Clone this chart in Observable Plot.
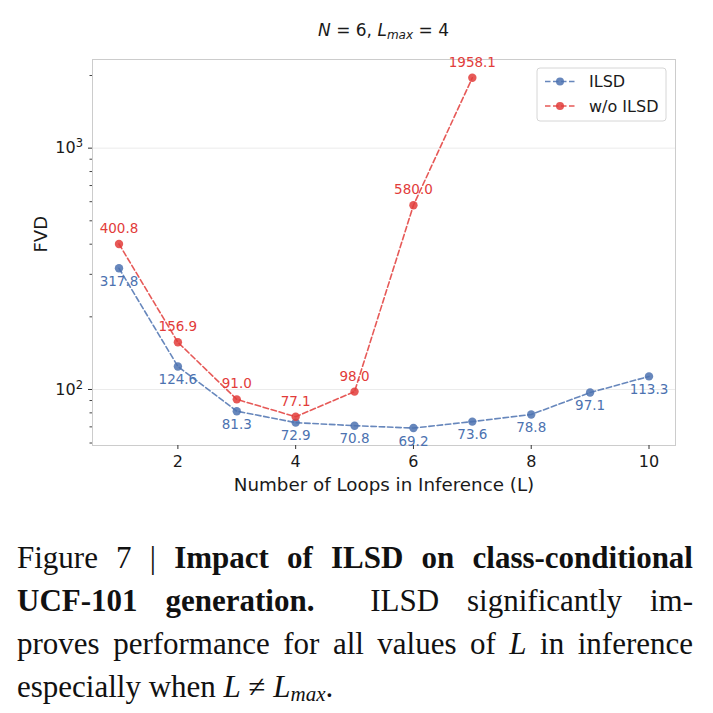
<!DOCTYPE html>
<html>
<head>
<meta charset="utf-8">
<script src="https://cdn.jsdelivr.net/npm/d3@7"></script>
<script src="https://cdn.jsdelivr.net/npm/@observablehq/plot@0.6"></script>
<style>
  html, body { margin: 0; padding: 0; background: #fff; }
  #fig { position: relative; width: 713px; height: 713px; overflow: hidden; }
  #title {
    position: absolute; left: 0; top: 18px; width: 713px; padding-left: 54px; box-sizing: border-box;
    text-align: center; font-family: "DejaVu Sans", sans-serif; font-size: 17px; line-height: 24px; color: #1a1a1a;
  }
  #title sub { font-size: 12px; vertical-align: -3px; line-height: 0; }
  #chart { position: absolute; left: 0; top: 50px; }
  #caption {
    position: absolute; left: 17px; top: 536px; width: 676px;
    font-family: "Liberation Serif", "DejaVu Serif", serif; font-size: 31px; line-height: 43px; color: #111;
  }
  #caption .ln { white-space: nowrap; }
  #caption .ln span { display: inline-block; white-space: nowrap; }
  #caption sub { font-size: 21px; vertical-align: -4px; line-height: 0; }
</style>
</head>
<body>
<div id="fig">
  <div id="title"><i>N</i> = 6, <i>L</i><sub><i>max</i></sub> = 4</div>
  <div id="chart"></div>
  <div id="caption">
    <div class="ln"><span data-justify="1">Figure 7 | <b>Impact of ILSD on class-conditional</b></span></div>
    <div class="ln"><span data-justify="1"><b>UCF-101 generation.</b> &nbsp;ILSD significantly im-</span></div>
    <div class="ln"><span data-justify="1">proves performance for all values of <i>L</i> in inference</span></div>
    <div class="ln"><span>especially when <i>L</i> ≠ <i>L<sub>max</sub></i>.</span></div>
  </div>
</div>
<script>
// Number of loops used at inference time
const loops = [1, 2, 3, 4, 5, 6, 7, 8, 9, 10];
// FVD with ILSD (all loop counts)
const fvdILSD = [317.8, 124.6, 81.3, 72.9, 70.8, 69.2, 73.6, 78.8, 97.1, 113.3];
// FVD without ILSD (loop counts 1..7)
const loopsNoILSD = [1, 2, 3, 4, 5, 6, 7];
const fvdNoILSD = [400.8, 156.9, 91.0, 77.1, 98.0, 580.0, 1958.1];

const seriesNames = ["ILSD", "w/o ILSD"];
const seriesColors = ["#4c72b0", "#e23c3a"];

const xTicks = [2, 4, 6, 8, 10];
const yMajorTicks = [100, 1000];
const yTickBase = "10";
const yTickExponents = ["2", "3"];
const yMinorTicks = [60, 70, 80, 90, 200, 300, 400, 500, 600, 700, 800, 900, 2000];

const xLabel = "Number of Loops in Inference (L)";
const yLabel = "FVD";

const ilsd = loops.map((L, i) => ({L, fvd: fvdILSD[i], series: seriesNames[0]}));
const noIlsd = loopsNoILSD.map((L, i) => ({L, fvd: fvdNoILSD[i], series: seriesNames[1]}));

// Power-of-ten labels for the log axis, with a raised exponent
function yPowerLabels() {
  return (index, scales, values, dims) => {
    const g = d3.create("svg:g")
      .attr("font-size", 16).attr("text-anchor", "end").attr("fill", "#1a1a1a");
    yMajorTicks.forEach((v, i) => {
      const t = g.append("text")
        .attr("x", dims.marginLeft - 9).attr("y", scales.y(v)).attr("dy", "0.36em");
      t.append("tspan").text(yTickBase);
      t.append("tspan").attr("font-size", 11.5).attr("dy", -6).text(yTickExponents[i]);
    });
    return g.node();
  };
}

// Boxed legend in the upper right corner of the frame
function legend() {
  return (index, scales, values, dims) => {
    const boxW = 129, boxH = 53;
    const x0 = dims.width - dims.marginRight - 9 - boxW;
    const y0 = dims.marginTop + 9;
    const g = d3.create("svg:g").attr("text-anchor", "start");
    g.append("rect")
      .attr("x", x0).attr("y", y0).attr("width", boxW).attr("height", boxH)
      .attr("rx", 3).attr("fill", "white").attr("fill-opacity", 0.85)
      .attr("stroke", "#d6d6d6").attr("stroke-width", 1);
    seriesNames.forEach((name, i) => {
      const cy = y0 + 13.5 + i * 24.5;
      g.append("line")
        .attr("x1", x0 + 8).attr("x2", x0 + 38).attr("y1", cy).attr("y2", cy)
        .attr("stroke", seriesColors[i]).attr("stroke-width", 1.5)
        .attr("stroke-dasharray", "5.5,2.5").attr("stroke-opacity", 0.85);
      g.append("circle")
        .attr("cx", x0 + 23).attr("cy", cy).attr("r", 4)
        .attr("fill", seriesColors[i]).attr("fill-opacity", 0.85);
      g.append("text")
        .attr("x", x0 + 52).attr("y", cy).attr("dy", "0.36em")
        .attr("font-size", 16).attr("fill", "#1a1a1a")
        .text(name);
    });
    return g.node();
  };
}

const lineStyle = {strokeWidth: 1.6, strokeDasharray: "5.5,2.8", strokeOpacity: 0.85};

const chart = Plot.plot({
  width: 713,
  height: 450,
  marginLeft: 92,
  marginRight: 38,
  marginTop: 9,
  marginBottom: 55,
  style: {fontFamily: "DejaVu Sans, sans-serif", color: "#1a1a1a", background: "white"},
  x: {domain: [0.55, 10.45]},
  y: {type: "log", domain: [58.6, 2330]},
  marks: [
    Plot.gridY(yMajorTicks, {stroke: "#ebebeb", strokeOpacity: 1, strokeWidth: 1}),
    Plot.frame({stroke: "#cccccc", strokeWidth: 1}),
    Plot.axisY(yMinorTicks, {tickSize: 2.5, text: null, label: null, stroke: "#444"}),
    Plot.axisY(yMajorTicks, {tickSize: 4, text: null, label: null, stroke: "#333"}),
    yPowerLabels(),
    Plot.axisX(xTicks, {tickSize: 4, tickPadding: 6, fontSize: 16, label: null, stroke: "#333", tickFormat: (d) => String(d)}),
    Plot.text([xLabel], {frameAnchor: "bottom", dy: 45, lineAnchor: "bottom", fontSize: 18.3, fill: "#1a1a1a"}),
    Plot.text([yLabel], {frameAnchor: "left", dx: -51, rotate: -90, fontSize: 18, fill: "#1a1a1a"}),

    Plot.line(ilsd, {x: "L", y: "fvd", stroke: seriesColors[0], ...lineStyle}),
    Plot.line(noIlsd, {x: "L", y: "fvd", stroke: seriesColors[1], ...lineStyle}),
    Plot.dot(ilsd, {x: "L", y: "fvd", r: 4.2, fill: seriesColors[0], fillOpacity: 0.85}),
    Plot.dot(noIlsd, {x: "L", y: "fvd", r: 4.2, fill: seriesColors[1], fillOpacity: 0.85}),
    Plot.text(ilsd, {x: "L", y: "fvd", text: (d) => d.fvd.toFixed(1), lineAnchor: "top", dy: 8, fontSize: 13.5, fill: seriesColors[0]}),
    Plot.text(noIlsd, {x: "L", y: "fvd", text: (d) => d.fvd.toFixed(1), lineAnchor: "bottom", dy: -11, fontSize: 13.5, fill: seriesColors[1]}),
    legend()
  ]
});

document.getElementById("chart").appendChild(chart);

// Justify caption lines to the full column width by adjusting word spacing
const colWidth = 676;
function justifyCaption() {
  document.querySelectorAll("#caption span[data-justify]").forEach((span) => {
    span.style.wordSpacing = "0px";
    const natural = span.getBoundingClientRect().width;
    const spaces = (span.textContent.match(/[ \u00a0]/g) || []).length;
    if (spaces > 0) span.style.wordSpacing = ((colWidth - natural) / spaces) + "px";
  });
}
justifyCaption();
document.fonts.ready.then(justifyCaption);
</script>
</body>
</html>
